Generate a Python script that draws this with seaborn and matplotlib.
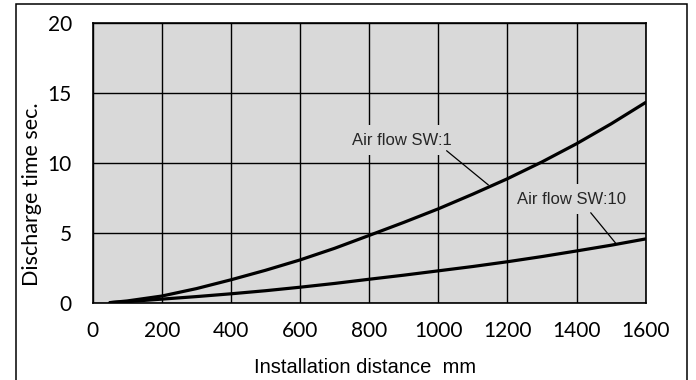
import pandas as pd
import matplotlib.pyplot as plt
import seaborn as sns
from matplotlib.patches import Rectangle

# data
distance = [50, 100, 200, 300, 400, 500, 600, 700, 800, 900, 1000, 1100, 1200, 1300, 1400, 1500, 1600]
time_sw1 = [0.05, 0.17, 0.52, 1.05, 1.68, 2.36, 3.1, 3.93, 4.85, 5.78, 6.75, 7.8, 8.9, 10.1, 11.4, 12.82, 14.35]
time_sw10 = [0.05, 0.12, 0.3, 0.48, 0.68, 0.9, 1.15, 1.42, 1.72, 2.01, 2.32, 2.63, 2.97, 3.34, 3.74, 4.15, 4.6]
labels = ['Air flow SW:1', 'Air flow SW:10']
x_ticks = [0, 200, 400, 600, 800, 1000, 1200, 1400, 1600]
y_ticks = [0, 5, 10, 15, 20]

df = pd.concat([
    pd.DataFrame({'distance': distance, 'time': time_sw1, 'setting': labels[0]}),
    pd.DataFrame({'distance': distance, 'time': time_sw10, 'setting': labels[1]}),
], ignore_index=True)

sns.set_theme(style='white')
plt.rcParams['font.family'] = ['Lato', 'DejaVu Sans']

fig = plt.figure(figsize=(6.96, 3.80), dpi=100)
ax = fig.add_axes([0.1332, 0.2018, 0.7945, 0.7368])
ax.set_facecolor('#d9d9d9')

sns.lineplot(data=df, x='distance', y='time', hue='setting', palette=['black', 'black'],
             linewidth=2.3, legend=False, ax=ax, zorder=3)

ax.set_xlim(0, 1600)
ax.set_ylim(0, 20)
ax.set_xticks(x_ticks)
ax.set_yticks(y_ticks)
ax.grid(True, color='black', linewidth=1.0)
ax.set_axisbelow(True)
ax.tick_params(length=0, labelsize=15, colors='black')
ax.tick_params(axis='x', pad=13)
ax.tick_params(axis='y', pad=15)
for s in ax.spines.values():
    s.set_color('black')
    s.set_linewidth(1.2)

ax.set_ylabel('Discharge time sec.', fontsize=15.5, color='black', va='center')
ax.yaxis.set_label_coords(-0.11, 0.39)
ax.set_xlabel('Installation distance  mm', fontsize=14.5, color='black', va='center',
              family=['Liberation Sans', 'DejaVu Sans'])
ax.xaxis.set_label_coords(0.4924, -0.2275)

# callouts
box = dict(boxstyle='square,pad=0.45', facecolor='#d9d9d9', edgecolor='none')
ax.text(895, 11.66, labels[0], ha='center', va='center', fontsize=12,
        family=['Liberation Sans', 'DejaVu Sans'], bbox=box, zorder=4)
ax.annotate('', xy=(1145, 8.45), xytext=(1024, 10.9),
            arrowprops=dict(arrowstyle='-', color='black', lw=0.9, shrinkA=0, shrinkB=0), zorder=4)
ax.text(1384, 7.43, labels[1], ha='center', va='center', fontsize=12,
        family=['Liberation Sans', 'DejaVu Sans'], bbox=box, zorder=4)
ax.annotate('', xy=(1513, 4.3), xytext=(1441, 6.47),
            arrowprops=dict(arrowstyle='-', color='black', lw=0.9, shrinkA=0, shrinkB=0), zorder=4)

# outer chart frame
fig.patches.append(Rectangle((15.5 / 696, -0.1), (687 - 15.5) / 696, 1.1 - 4.5 / 380,
                             transform=fig.transFigure, fill=False, edgecolor='black', linewidth=1.1))

fig.savefig('out.png', dpi=100)
